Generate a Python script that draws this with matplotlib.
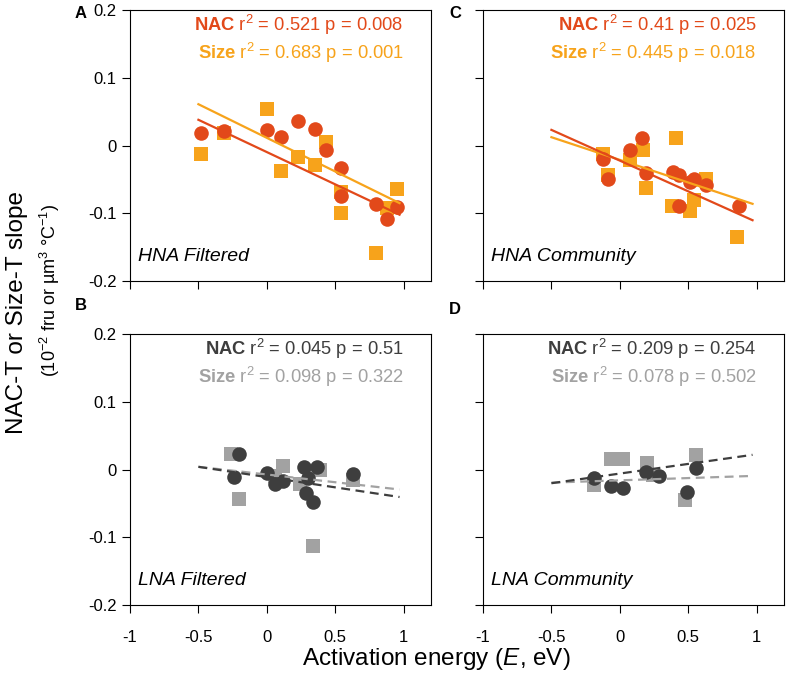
import numpy as np
import matplotlib
matplotlib.use("Agg")
from matplotlib import pyplot as plt

plt.rcParams['font.family'] = ['Liberation Sans', 'DejaVu Sans']
plt.rcParams['mathtext.fontset'] = 'custom'
plt.rcParams['mathtext.rm'] = 'Liberation Sans'
plt.rcParams['mathtext.it'] = 'Liberation Sans:italic'
plt.rcParams['mathtext.bf'] = 'Liberation Sans:bold'

# ---- data ----
# panel A: HNA filtered
a_nac_x = [-0.48, -0.31, 0.0, 0.10, 0.23, 0.35, 0.43, 0.54, 0.54, 0.80, 0.88, 0.95]
a_nac_y = [0.018, 0.021, 0.023, 0.012, 0.036, 0.025, -0.007, -0.033, -0.074, -0.087, -0.109, -0.091]
a_size_x = [-0.48, -0.31, 0.0, 0.10, 0.23, 0.35, 0.43, 0.54, 0.54, 0.80, 0.88, 0.95]
a_size_y = [-0.013, 0.018, 0.054, -0.037, -0.017, -0.029, 0.005, -0.069, -0.100, -0.159, -0.092, -0.064]
a_fit_nac = (-0.0097, -0.0953)    # intercept, slope
a_fit_size = (0.0113, -0.0993)

# panel B: LNA filtered
b_nac_x = [-0.20, -0.24, 0.0, 0.06, 0.12, 0.27, 0.29, 0.34, 0.37, 0.63, 0.30]
b_nac_y = [0.0235, -0.011, -0.005, -0.021, -0.017, 0.004, -0.034, -0.048, 0.004, -0.006, -0.012]
b_size_x = [-0.26, -0.20, 0.12, 0.24, 0.34, 0.39, 0.63, 0.06]
b_size_y = [0.0225, -0.044, 0.005, -0.021, -0.113, -0.001, -0.016, -0.010]
b_fit_nac = (-0.0112, -0.0303)
b_fit_size = (-0.0074, -0.0228)

# panel C: HNA community
c_nac_x = [-0.12, -0.085, 0.078, 0.16, 0.195, 0.39, 0.43, 0.43, 0.51, 0.54, 0.63, 0.87]
c_nac_y = [-0.020, -0.049, -0.006, 0.011, -0.041, -0.039, -0.044, -0.089, -0.054, -0.050, -0.058, -0.090]
c_size_x = [-0.12, -0.085, 0.073, 0.166, 0.195, 0.41, 0.38, 0.51, 0.54, 0.63, 0.86]
c_size_y = [-0.013, -0.044, -0.022, -0.006, -0.062, 0.011, -0.090, -0.096, -0.080, -0.050, -0.135]
c_fit_nac = (-0.0223, -0.0907)
c_fit_size = (-0.0212, -0.0669)

# panel D: LNA community
d_nac_x = [-0.19, -0.068, 0.024, 0.195, 0.285, 0.49, 0.56]
d_nac_y = [-0.012, -0.024, -0.027, -0.003, -0.009, -0.033, 0.0015]
d_size_x = [-0.19, -0.068, 0.024, 0.20, 0.244, 0.48, 0.56]
d_size_y = [-0.023, 0.015, 0.016, 0.009, -0.008, -0.045, 0.021]
d_fit_nac = (-0.006, 0.0285)
d_fit_size = (-0.016, 0.0067)

fit_range = [-0.5, 0.97]

stats = {
    'A': ("0.521", "0.008", "0.683", "0.001"),
    'B': ("0.045", "0.51", "0.098", "0.322"),
    'C': ("0.41", "0.025", "0.445", "0.018"),
    'D': ("0.209", "0.254", "0.078", "0.502"),
}
titles = {'A': "HNA Filtered", 'B': "LNA Filtered", 'C': "HNA Community", 'D': "LNA Community"}

xticks = [-1, -0.5, 0, 0.5, 1]
xticklabels = ["-1", "-0.5", "0", "0.5", "1"]
yticks = [-0.2, -0.1, 0, 0.1, 0.2]
yticklabels = ["-0.2", "-0.1", "0", "0.1", "0.2"]

RED = '#E2491A'
ORANGE = '#F7A31B'
DARK = '#3E3E3E'
LIGHT = '#A2A2A2'

fig = plt.figure(figsize=(7.87, 6.73), dpi=100)
W, H = 787.0, 673.0

def px_axes(l, t, r, b):
    return fig.add_axes([l / W, 1 - b / H, (r - l) / W, (b - t) / H])

axes = {
    'A': px_axes(130, 10, 431, 281),
    'C': px_axes(483, 10, 784, 281),
    'B': px_axes(130, 334, 431, 605),
    'D': px_axes(483, 334, 784, 605),
}

panels = {
    'A': (a_nac_x, a_nac_y, a_size_x, a_size_y, a_fit_nac, a_fit_size, RED, ORANGE, '-'),
    'B': (b_nac_x, b_nac_y, b_size_x, b_size_y, b_fit_nac, b_fit_size, DARK, LIGHT, '--'),
    'C': (c_nac_x, c_nac_y, c_size_x, c_size_y, c_fit_nac, c_fit_size, RED, ORANGE, '-'),
    'D': (d_nac_x, d_nac_y, d_size_x, d_size_y, d_fit_nac, d_fit_size, DARK, LIGHT, '--'),
}

fx = np.array(fit_range)
for key, ax in axes.items():
    nx, ny, sx, sy, fn, fs, cn, cs, ls = panels[key]
    ax.scatter(sx, sy, s=95, marker='s', color=cs, linewidths=0, zorder=2)
    ax.scatter(nx, ny, s=110, marker='o', color=cn, linewidths=0, zorder=3)
    dash = dict(dashes=(4, 2.5)) if ls == '--' else {}
    ax.plot(fx, fs[0] + fs[1] * fx, color=cs, lw=1.6, zorder=4, **dash)
    ax.plot(fx, fn[0] + fn[1] * fx, color=cn, lw=1.6, zorder=4, **dash)

    ax.set_xlim(-1, 1.2)
    ax.set_ylim(-0.2, 0.2)
    ax.set_xticks(xticks)
    ax.set_yticks(yticks)
    ax.tick_params(direction='out', length=6, width=0.8, labelsize=12, colors='black')
    ax.tick_params(axis='x', pad=12)
    if key in ('A', 'B'):
        ax.set_yticklabels(yticklabels)
    else:
        ax.set_yticklabels([])
    if key in ('B', 'D'):
        ax.set_xticklabels(xticklabels)
    else:
        ax.set_xticklabels([])
    for sp in ax.spines.values():
        sp.set_linewidth(0.8)

    r1, p1, r2, p2 = stats[key]
    tr = matplotlib.transforms.blended_transform_factory(ax.transData, ax.transAxes)
    ax.text(1.0, 0.943, r"$\mathbf{NAC}$ r$^2$ = %s p = %s" % (r1, p1), transform=tr,
            ha='right', va='center', fontsize=13.2, color=cn)
    ax.text(1.0, 0.843, r"$\mathbf{Size}$ r$^2$ = %s p = %s" % (r2, p2), transform=tr,
            ha='right', va='center', fontsize=13.2, color=cs)
    ax.text(0.027, 0.092, titles[key], transform=ax.transAxes, ha='left', va='center',
            fontsize=14, style='italic', color='black')

# panel letters
for lab, (x, y) in {'A': (81, 13), 'B': (81, 306), 'C': (455, 13), 'D': (455, 310)}.items():
    fig.text(x / W, 1 - y / H, lab, ha='center', va='center', fontsize=12, fontweight='bold')

fig.text(17 / W, 1 - 313 / H, "NAC-T or Size-T slope", rotation=90, ha='center', va='center',
         fontsize=17.5)
fig.text(50 / W, 1 - 290 / H, r"(10$^{-2}$ fru or µm$^{3}$ °C$^{-1}$)", rotation=90,
         ha='center', va='center', fontsize=13)
fig.text(436 / W, 1 - 659 / H, r"Activation energy ($E$, eV)", ha='center', va='center',
         fontsize=17.5)

fig.savefig('out.png', dpi=100)
